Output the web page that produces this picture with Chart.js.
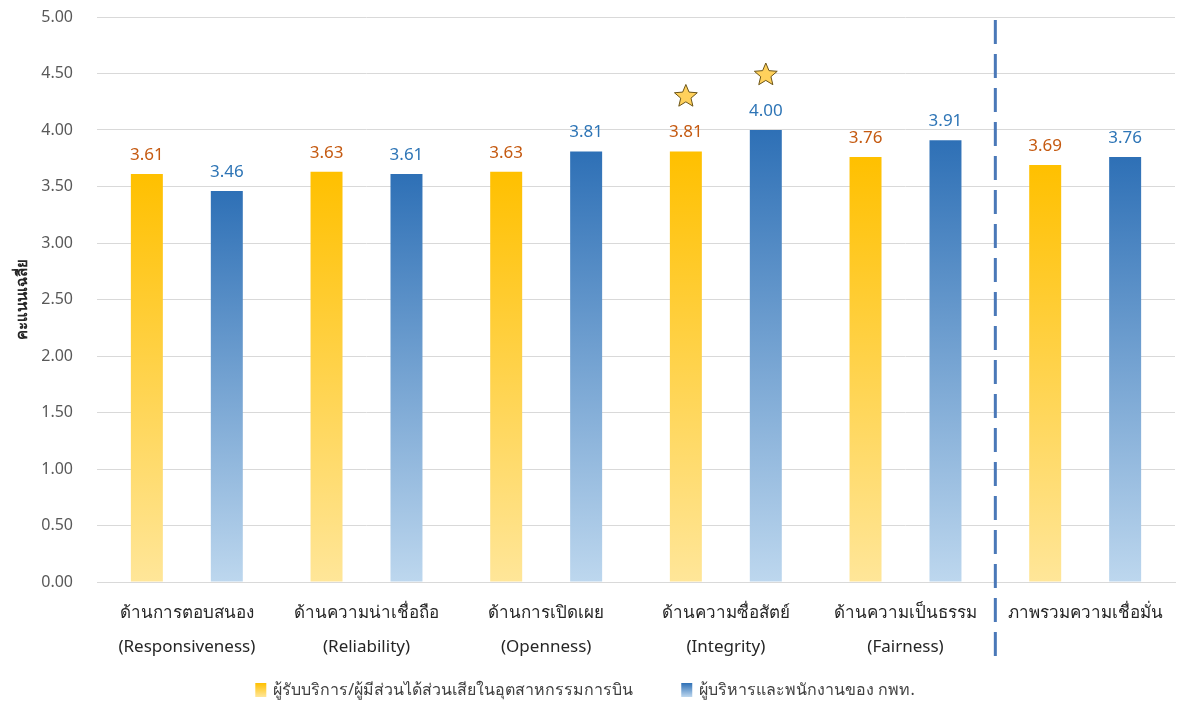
<!DOCTYPE html>
<html>
<head>
<meta charset="utf-8">
<script src="https://cdn.jsdelivr.net/npm/chart.js@4.4.1/dist/chart.umd.min.js"></script>
<style>
    html, body { margin: 0; padding: 0; background: #fff; }
    #wrap { width: 1180px; height: 706px; }
</style>
</head>
<body>
<div id="wrap"><canvas id="scoreChart"></canvas></div>
<script>
// ================= DATA =================
const categories = [
    ["ด้านการตอบสนอง", "(Responsiveness)"],
    ["ด้านความน่าเชื่อถือ", "(Reliability)"],
    ["ด้านการเปิดเผย", "(Openness)"],
    ["ด้านความซื่อสัตย์", "(Integrity)"],
    ["ด้านความเป็นธรรม", "(Fairness)"],
    ["ภาพรวมความเชื่อมั่น"]
];
const stakeholderScores = [3.61, 3.63, 3.63, 3.81, 3.76, 3.69];
const staffScores = [3.46, 3.61, 3.81, 4.00, 3.91, 3.76];
const stakeholderStars = [false, false, false, true, false, false];
const staffStars = [false, false, false, true, false, false];
const seriesNames = [
    "ผู้รับบริการ/ผู้มีส่วนได้ส่วนเสียในอุตสาหกรรมการบิน",
    "ผู้บริหารและพนักงานของ กพท."
];
const yTicks = [0, 0.5, 1, 1.5, 2, 2.5, 3, 3.5, 4, 4.5, 5];

const FONT = "'Noto Sans', 'Open Sans', sans-serif";
const YELLOW = ["#FFC000", "#FFE699"];
const BLUE = ["#2E70B6", "#BDD7EE"];

// ================= HELPERS =================
function barGradient(ctx, colors) {
    const chart = ctx.chart;
    if (!chart.chartArea || ctx.raw === undefined) return colors[0];
    const y = chart.scales.y;
    const g = chart.ctx.createLinearGradient(0, y.getPixelForValue(ctx.raw), 0, y.getPixelForValue(0));
    g.addColorStop(0, colors[0]);
    g.addColorStop(1, colors[1]);
    return g;
}

function drawStar(ctx, cx, cy, r) {
    ctx.save();
    ctx.beginPath();
    for (let i = 0; i < 10; i++) {
        const rad = i % 2 === 0 ? r : r * 0.45;
        const a = -Math.PI / 2 + i * Math.PI / 5;
        const px = cx + rad * Math.cos(a);
        const py = cy + rad * Math.sin(a);
        if (i === 0) ctx.moveTo(px, py); else ctx.lineTo(px, py);
    }
    ctx.closePath();
    ctx.fillStyle = "#FFD15C";
    ctx.fill();
    ctx.lineWidth = 1;
    ctx.strokeStyle = "#6B5418";
    ctx.stroke();
    ctx.restore();
}

// ================= PLUGIN: labels, stars, divider, legend =================
const extrasPlugin = {
    id: "extras",
    afterDatasetsDraw(chart) {
        const ctx = chart.ctx;
        const labelColors = ["#C55A11", "#2E75B6"];
        const starFlags = [stakeholderStars, staffStars];

        chart.data.datasets.forEach((ds, di) => {
            const meta = chart.getDatasetMeta(di);
            meta.data.forEach((bar, i) => {
                ctx.save();
                ctx.font = "17px " + FONT;
                ctx.fillStyle = labelColors[di];
                ctx.textAlign = "center";
                ctx.textBaseline = "middle";
                ctx.fillText(ds.data[i].toFixed(2), bar.x, bar.y - 19);
                ctx.restore();
                if (starFlags[di][i]) drawStar(ctx, bar.x, bar.y - 55, 12);
            });
        });

        // dashed divider before the overall group
        const x = chart.scales.x;
        const divX = (x.getPixelForValue(4) + x.getPixelForValue(5)) / 2;
        ctx.save();
        ctx.strokeStyle = "#4A78B8";
        ctx.lineWidth = 3;
        ctx.setLineDash([24, 10]);
        ctx.beginPath();
        ctx.moveTo(divX, chart.chartArea.top + 3);
        ctx.lineTo(divX, chart.chartArea.bottom + 83);
        ctx.stroke();
        ctx.restore();
    },
    afterDraw(chart) {
        // legend with gradient swatches
        const ctx = chart.ctx;
        const colors = [YELLOW, BLUE];
        const gap = 48;
        ctx.save();
        ctx.font = "16px " + FONT;
        const widths = seriesNames.map(n => ctx.measureText(n).width);
        const total = widths[0] + widths[1] + 2 * (11 + 7) + gap;
        let lx = chart.width / 2 - total / 2 - 5;
        const ly = chart.height - 16;
        seriesNames.forEach((name, i) => {
            const g = ctx.createLinearGradient(0, ly - 7, 0, ly + 7);
            g.addColorStop(0, colors[i][0]);
            g.addColorStop(1, colors[i][1]);
            ctx.fillStyle = g;
            ctx.fillRect(lx, ly - 7, 11, 14);
            ctx.fillStyle = "#404040";
            ctx.textAlign = "left";
            ctx.textBaseline = "middle";
            ctx.fillText(name, lx + 18, ly);
            lx += 18 + widths[i] + gap;
        });
        ctx.restore();
    }
};

// ================= CHART =================
new Chart(document.getElementById("scoreChart"), {
    type: "bar",
    data: {
        labels: categories,
        datasets: [
            {
                label: seriesNames[0],
                data: stakeholderScores,
                backgroundColor: ctx => barGradient(ctx, YELLOW)
            },
            {
                label: seriesNames[1],
                data: staffScores,
                backgroundColor: ctx => barGradient(ctx, BLUE)
            }
        ]
    },
    options: {
        responsive: true,
        maintainAspectRatio: false,
        animation: false,
        layout: { padding: { top: 17, right: 5, left: 0, bottom: 36 } },
        datasets: {
            bar: { categoryPercentage: 0.89, barPercentage: 0.4 }
        },
        scales: {
            x: {
                grid: { display: false },
                border: { color: "#D9D9D9" },
                ticks: {
                    color: "#262626",
                    font: { family: FONT, size: 17, lineHeight: 2.0 },
                    padding: 6
                }
            },
            y: {
                min: 0,
                max: 5,
                afterBuildTicks: axis => {
                    axis.ticks = yTicks.map(v => ({ value: v }));
                },
                afterFit: axis => {
                    axis.width = 97;
                },
                grid: { color: "#D9D9D9", drawTicks: true, tickLength: 21, tickColor: "rgba(0,0,0,0)" },
                border: { display: false },
                ticks: {
                    color: "#595959",
                    font: { family: FONT, size: 16 },
                    padding: 3,
                    callback: v => Number(v).toFixed(2)
                },
                title: {
                    display: true,
                    text: "คะแนนเฉลี่ย",
                    color: "#262626",
                    font: { family: FONT, size: 15, weight: "bold", lineHeight: 1.0 },
                    padding: { top: 15, bottom: 0 }
                }
            }
        },
        plugins: {
            legend: { display: false },
            tooltip: { enabled: false }
        }
    },
    plugins: [extrasPlugin]
});
</script>
</body>
</html>
